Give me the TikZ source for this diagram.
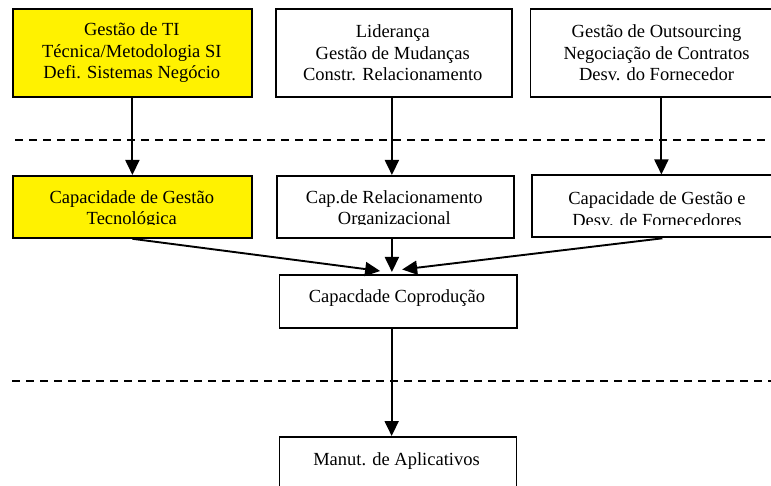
\documentclass[tikz,border=0pt]{standalone}
\usepackage{fontspec}
\setmainfont{Liberation Serif}
\usetikzlibrary{arrows.meta}
\begin{document}
\begin{tikzpicture}[x=1pt,y=-1pt,
  box/.style={draw,line width=1.8pt,inner sep=0pt,anchor=north west},
  hilite/.style={box,fill=yellow},
  lbl/.style={font=\fontsize{18.5}{21.5}\selectfont,align=center,inner sep=0pt},
  conn/.style={line width=1.9pt,-{Triangle[length=15pt,width=14pt]}},
  sep/.style={line width=1.9pt,dash pattern=on 8pt off 6pt}]
\useasboundingbox (0,0) rectangle (771,486);

% top row: competences
\node[hilite,minimum width=239pt,minimum height=88pt] (ta) at (12,8) {};
\node[box,minimum width=236pt,minimum height=88pt] (tb) at (275,8) {};
\node[box,minimum width=254pt,minimum height=88pt] (tc) at (529.5,8) {};
\node[lbl] (tat) at (131.8,53) {Gestão de TI\\Técnica/Metodologia SI\\Defi. Sistemas Negócio};
\node[lbl] (tbt) at (392.8,53) {Liderança\\Gestão de Mudanças\\Constr. Relacionamento};
\node[lbl] (tct) at (656.5,53) {Gestão de Outsourcing\\Negociação de Contratos\\Desv. do Fornecedor};

% separators
\coordinate (d1a) at (15,140);
\coordinate (d1b) at (765,140);
\draw[sep] (d1a) -- (d1b);
\coordinate (d2a) at (12,381);
\coordinate (d2b) at (773,381);
\draw[sep] (d2a) -- (d2b);

% middle row: capabilities
\node[hilite,minimum width=239pt,minimum height=62pt] (ma) at (12,175) {};
\node[box,minimum width=237pt,minimum height=62pt] (mb) at (276,175) {};
\node[box,minimum width=252pt,minimum height=62pt] (mc) at (531,174.5) {};
\begin{scope}
  \clip (0,0) rectangle (771,224.8);
  \node[lbl] (mat) at (131.8,209.5) {Capacidade de Gestão\\Tecnológica};
  \node[lbl] (mbt) at (394.3,209.5) {Cap.de Relacionamento\\Organizacional};
  \node[lbl] (mct) at (657,209) {Capacidade de Gestão e\\Desv. de Fornecedores};
\end{scope}

% lower boxes
\node[box,minimum width=237.5pt,minimum height=53pt] (cp) at (278.5,274) {};
\node[lbl] (cpt) at (397,298) {Capacdade Coprodução};
\node[box,minimum width=237pt,minimum height=53pt] (mn) at (278.5,436) {};
\node[lbl] (mnt) at (396.5,461) {Manut. de Aplicativos};

% connectors
\draw[conn] (ta.south) -- (ma.north);
\draw[conn] ([xshift=-2pt]tb.south) -- ([xshift=-2pt]tb.south |- mb.north);
\draw[conn] ([xshift=4pt]tc.south) -- ([xshift=4pt]tc.south |- mc.north);
\draw[conn] (ma.south) -- ([xshift=-18pt,yshift=3pt]cp.north);
\draw[conn] ([xshift=-3.5pt]mb.south) -- ([xshift=-3.5pt,yshift=2pt]mb.south |- cp.north);
\draw[conn] ([xshift=4.5pt]mc.south) -- ([xshift=4pt,yshift=4.5pt]cp.north);
\draw[conn] ([xshift=-6.5pt]cp.south) -- ([xshift=-6.5pt]cp.south |- mn.north);
\end{tikzpicture}
\end{document}
